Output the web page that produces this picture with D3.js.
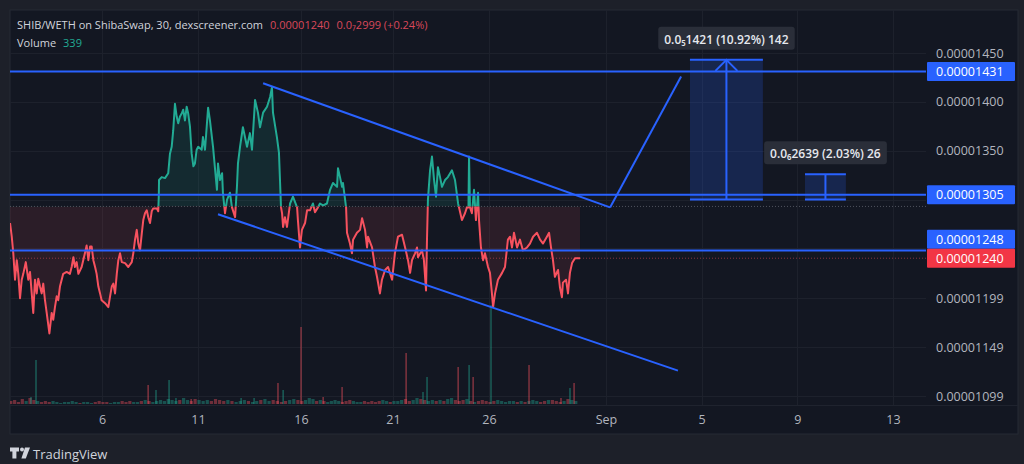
<!DOCTYPE html>
<html><head><meta charset="utf-8">
<script src="https://cdn.jsdelivr.net/npm/d3@7"></script>
<style>
html,body{margin:0;padding:0;background:#1d2029;}
svg{display:block;font-family:"Open Sans","Noto Sans",sans-serif;}
</style></head><body>
<svg id="c" width="1024" height="464"></svg>
<script>
// ---------- DATA ----------
// time in days from 1 Aug (32 = 1 Sep); price in units of 1e-8
const priceT = [1.21,1.30,1.38,1.47,1.56,1.64,1.73,1.82,1.90,2.03,2.16,2.25,2.34,2.42,2.51,2.60,2.68,2.77,2.86,2.94,
3.03,3.12,3.26,3.38,3.46,3.55,3.64,3.72,3.81,3.90,3.98,4.16,4.33,4.42,4.51,4.59,4.68,4.77,4.94,5.11,
5.20,5.29,5.38,5.46,5.55,5.64,5.72,5.81,5.90,5.98,6.16,6.33,6.42,6.51,6.59,6.68,6.77,6.85,6.94,7.03,
7.20,7.37,7.55,7.63,7.72,7.81,7.89,7.98,8.07,8.15,8.24,8.33,8.41,8.50,8.59,8.67,8.85,8.93,8.96,8.97,
9.11,9.28,9.45,9.54,9.63,9.71,9.80,9.89,9.97,10.06,10.15,10.23,10.32,10.41,10.49,10.58,10.67,10.76,10.84,10.93,
11.01,11.18,11.24,11.34,11.49,11.58,11.73,11.92,11.97,12.07,12.17,12.21,12.31,12.41,12.55,12.65,12.80,12.89,12.94,13.04,
13.18,13.38,13.52,13.62,13.77,13.91,14.01,14.16,14.35,14.50,14.59,14.64,14.83,14.93,15.03,15.08,15.13,15.22,15.32,15.47,
15.61,15.81,15.85,15.95,16.05,16.22,16.33,16.49,16.65,16.76,16.92,17.03,17.20,17.41,17.58,17.74,17.96,18.01,18.12,18.23,
18.28,18.45,18.50,18.66,18.77,18.83,19.04,19.21,19.32,19.48,19.59,19.64,19.86,20.02,20.13,20.29,20.40,20.57,20.73,20.95,
21.10,21.26,21.47,21.63,21.78,21.89,21.99,22.15,22.25,22.30,22.51,22.61,22.72,22.77,22.82,22.93,23.03,23.14,23.24,23.34,
23.45,23.55,23.71,23.86,24.07,24.23,24.39,24.59,24.75,24.85,24.93,24.96,25.01,25.11,25.22,25.32,25.43,25.48,25.58,25.69,
25.79,25.95,26.05,26.15,26.21,26.31,26.46,26.67,26.82,26.97,27.08,27.18,27.28,27.44,27.59,27.74,27.95,28.10,28.26,28.46,
28.62,28.77,28.97,29.08,29.18,29.28,29.38,29.54,29.64,29.74,29.79,29.95,30.05,30.15,30.26,30.41,30.56,30.67];
const priceE8 = [1276,1262,1245,1218,1238,1224,1199,1218,1224,1236,1218,1226,1204,1184,1218,1204,1219,1211,1204,1214,
1197,1184,1163,1184,1177,1190,1201,1197,1211,1218,1224,1226,1224,1231,1241,1231,1236,1224,1231,1245,
1253,1238,1252,1252,1238,1231,1224,1211,1204,1197,1194,1190,1201,1211,1214,1204,1224,1238,1245,1236,
1235,1231,1236,1245,1259,1269,1255,1248,1265,1279,1286,1289,1282,1276,1288,1291,1291,1288,1305,1320,
1323,1322,1327,1347,1354,1371,1398,1385,1378,1385,1388,1392,1381,1395,1388,1375,1347,1334,1337,1351,
1354,1351,1364,1351,1394,1381,1354,1310,1337,1320,1327,1307,1286,1300,1307,1292,1282,1313,1337,1354,
1374,1354,1368,1351,1402,1389,1374,1389,1395,1405,1415,1389,1364,1348,1292,1286,1272,1282,1272,1296,
1303,1292,1279,1251,1269,1276,1289,1289,1296,1287,1292,1296,1294,1296,1310,1317,1313,1332,1323,1313,
1317,1292,1266,1255,1245,1259,1266,1269,1281,1269,1251,1262,1251,1231,1221,1204,1218,1228,1231,1218,
1245,1262,1264,1251,1238,1225,1238,1245,1251,1241,1248,1238,1207,1259,1300,1330,1344,1320,1303,1333,
1323,1313,1320,1323,1330,1320,1296,1279,1286,1292,1292,1344,1292,1286,1310,1279,1307,1279,1251,1238,
1245,1231,1225,1204,1190,1204,1218,1225,1231,1259,1262,1251,1266,1251,1259,1248,1251,1255,1262,1266,
1259,1255,1262,1266,1251,1238,1221,1228,1210,1200,1215,1218,1204,1225,1235,1240,1240,1240];

const baselineE8 = 1293;       // baseline of the baseline-style series
const lastPriceE8 = 1240;

// volume: small bars at regular 0.2-day steps from t=1.25, plus notable spikes [t, value, up]
const volStart = 1.25, volStep = 0.2;
const volFloor = [3,4,2,5,3,6,4,3,2,3, 2,3,2,1,2,2,3,2,1,2, 2,1,2,3,2,2,1,2,2,3, 2,3,2,2,3,4,3,2,3,4,
3,5,4,3,4,6,4,3,5,4, 3,4,3,5,4,3,4,3,2,3, 4,3,2,3,4,5,3,4,3,2, 3,4,5,4,3,4,6,5,3,4,
3,2,3,4,3,2,3,4,3,2, 2,3,2,3,2,3,4,3,2,3, 3,4,5,3,4,6,5,4,3,4, 3,4,3,5,6,4,3,4,5,3,
2,3,4,3,2,3,4,3,2,3, 3,2,3,2,3,4,3,2,3,4, 4,3,2,3,5,4,3];
const volSpikes = [[2.30,7,1],[2.56,44,1],[8.40,19,0],[8.81,14,1],[9.49,24,1],[9.85,6,1],[10.64,5,0],
[13.09,6,1],[13.72,6,1],[14.88,21,0],[15.13,14,1],[16.00,77,0],[17.20,7,0],[18.23,17,0],
[21.68,51,0],[22.56,12,1],[22.77,27,1],[24.39,37,0],[24.96,39,1],[25.17,27,0],[26.10,99,1],
[28.05,39,0],[29.69,6,0],[30.15,16,1],[30.36,21,0]];

// drawings
const hLevels = [1431, 1305, 1248];
const channelUpper = [[14.16,1419],[32.17,1292]];
const breakoutLine = [[32.17,1292],[35.14,1426]];
const channelLower = [[11.97,1285],[35.01,1125]];
const measures = [
  {t0:35.51, t1:38.56, p0:1300, p1:1443, label:"0.0\u20851421 (10.92%) 142", arrow:true},
  {t0:40.32, t1:42.03, p0:1300, p1:1326, label:"0.0\u20862639 (2.03%) 26", arrow:false}
];

// axes
const timeTicks = [6,11,16,21,26,32,36,40,44];
const timeLabels = ["6","11","16","21","26","Sep","5","9","13"];
const priceTicks = [1450,1400,1350,1199,1149,1099];
const gridPrices = [1450,1400,1350,1300,1250,1199,1149,1099];

// header
const titleText = "SHIB/WETH on ShibaSwap, 30, dexscreener.com";
const titlePrice = "0.00001240";
const titleChange = "0.0\u20872999 (+0.24%)";
const volumeValue = "339";

// ---------- DRAW ----------
const W=1024,H=464;
const P={l:10,r:926,t:10,b:405};
const GREEN="#22ab94", RED="#f7525f", BLUE="#2962ff";
const svg=d3.select("#c");
const defs=svg.append("defs");

svg.append("rect").attr("width",W).attr("height",H).attr("fill","#1d2029");
svg.append("rect").attr("x",10).attr("y",10).attr("width",1008).attr("height",424)
  .attr("fill","#131722").attr("stroke","#262a35");

const x=d3.scaleLinear().domain([1,6,11,16,21,26,32,44]).range([6,102,198,301,393,489,606,893]);
const y=d3.scaleLinear().domain([1099,1450]).range([396,53]);
const vy=d3.scaleLinear().domain([0,100]).range([404,304]);

// grid
const grid=svg.append("g").attr("stroke","#1d212c").attr("stroke-width",1);
grid.selectAll("line.v").data(timeTicks).join("line")
  .attr("x1",d=>Math.round(x(d))+0.5).attr("x2",d=>Math.round(x(d))+0.5).attr("y1",P.t).attr("y2",P.b);
grid.selectAll("line.h").data(gridPrices).join("line")
  .attr("x1",P.l).attr("x2",P.r).attr("y1",d=>Math.round(y(d))+0.5).attr("y2",d=>Math.round(y(d))+0.5);
svg.append("line").attr("x1",P.l).attr("x2",1018).attr("y1",P.b+0.5).attr("y2",P.b+0.5).attr("stroke","#1f232e");

// clips
const yb=y(baselineE8);
defs.append("clipPath").attr("id","plot").append("rect").attr("x",P.l).attr("y",P.t).attr("width",P.r-P.l).attr("height",P.b-P.t);
defs.append("clipPath").attr("id","top").append("rect").attr("x",P.l).attr("y",P.t).attr("width",P.r-P.l).attr("height",yb-P.t);
defs.append("clipPath").attr("id","bot").append("rect").attr("x",P.l).attr("y",yb).attr("width",P.r-P.l).attr("height",P.b-yb);

const series=priceT.map((t,i)=>({t,p:priceE8[i]}));
const bis=d3.bisector(d=>d.t).left;
function priceAt(t){
  let i=bis(series,t); if(i<=0) return series[0].p; if(i>=series.length) return series[series.length-1].p;
  const a=series[i-1],b=series[i]; return a.p+(b.p-a.p)*(t-a.t)/(b.t-a.t);
}

// volume
const vol=svg.append("g").attr("clip-path","url(#plot)");
const floorData=volFloor.map((v,i)=>{const t=volStart+i*volStep; return {t,v,up:priceAt(t)>=priceAt(t-volStep)};});
vol.selectAll("rect.f").data(floorData).join("rect")
  .attr("x",d=>x(d.t)-1.6).attr("width",3.2).attr("y",d=>vy(d.v)).attr("height",d=>vy(0)-vy(d.v))
  .attr("fill",d=>d.up?GREEN:RED).attr("opacity",0.4);
vol.selectAll("rect.s").data(volSpikes).join("rect")
  .attr("x",d=>x(d[0])-0.6).attr("width",1.3).attr("y",d=>vy(d[1])).attr("height",d=>vy(0)-vy(d[1]))
  .attr("fill",d=>d[2]?GREEN:RED).attr("opacity",0.55);

// baseline series
const area=d3.area().x(d=>x(d.t)).y0(yb).y1(d=>y(d.p));
const line=d3.line().x(d=>x(d.t)).y(d=>y(d.p));
svg.append("path").datum(series).attr("d",area).attr("fill",GREEN).attr("opacity",0.13).attr("clip-path","url(#top)");
svg.append("path").datum(series).attr("d",area).attr("fill",RED).attr("opacity",0.11).attr("clip-path","url(#bot)");
svg.append("line").attr("x1",P.l).attr("x2",P.r).attr("y1",yb).attr("y2",yb)
  .attr("stroke","#6a6d78").attr("stroke-dasharray","1,2").attr("opacity",0.7);
svg.append("line").attr("x1",P.l).attr("x2",P.r).attr("y1",y(lastPriceE8)).attr("y2",y(lastPriceE8))
  .attr("stroke",RED).attr("stroke-dasharray","1,2").attr("opacity",0.5);
svg.append("path").datum(series).attr("d",line).attr("fill","none").attr("stroke",GREEN).attr("stroke-width",2)
  .attr("stroke-linejoin","round").attr("clip-path","url(#top)");
svg.append("path").datum(series).attr("d",line).attr("fill","none").attr("stroke",RED).attr("stroke-width",2)
  .attr("stroke-linejoin","round").attr("clip-path","url(#bot)");

// drawings
const dr=svg.append("g").attr("clip-path","url(#plot)");
dr.selectAll("line.h").data(hLevels).join("line")
  .attr("x1",P.l).attr("x2",P.r).attr("y1",d=>y(d)).attr("y2",d=>y(d))
  .attr("stroke",BLUE).attr("stroke-width",2);
[channelUpper,breakoutLine,channelLower].forEach(seg=>{
  dr.append("path").datum(seg).attr("d",d3.line().x(d=>x(d[0])).y(d=>y(d[1])))
    .attr("stroke",BLUE).attr("stroke-width",2).attr("fill","none");
});
measures.forEach(m=>{
  const x0=x(m.t0),x1=x(m.t1),yt=y(m.p1),ybm=y(m.p0),xm=(x0+x1)/2;
  dr.append("rect").attr("x",x0).attr("y",yt).attr("width",x1-x0).attr("height",ybm-yt)
    .attr("fill",BLUE).attr("opacity",0.2);
  const g=dr.append("g").attr("stroke",BLUE).attr("stroke-width",2).attr("fill","none");
  g.append("line").attr("x1",x0).attr("x2",x1).attr("y1",yt).attr("y2",yt);
  g.append("line").attr("x1",x0).attr("x2",x1).attr("y1",ybm).attr("y2",ybm);
  g.append("line").attr("x1",xm).attr("x2",xm).attr("y1",yt).attr("y2",ybm);
  if(m.arrow) g.append("path").attr("d",`M${xm-11},${yt+11}L${xm},${yt}L${xm+11},${yt+11}`);
  const tg=svg.append("g");
  const tx=tg.append("text").attr("x",xm).attr("y",yt-16).attr("text-anchor","middle")
    .attr("fill","#e6e8ee").attr("font-size",12).attr("font-weight",600).text(m.label);
  const bb=tx.node().getBBox();
  tg.insert("rect","text").attr("x",bb.x-6).attr("y",yt-33).attr("width",bb.width+12).attr("height",23)
    .attr("rx",3).attr("fill","#2a2e39");
});

// axes
const xAxis=d3.axisBottom(x).tickValues(timeTicks).tickFormat((d,i)=>timeLabels[i]).tickSize(0).tickPadding(10);
const gx=svg.append("g").attr("transform",`translate(0,${P.b})`).call(xAxis);
gx.select(".domain").remove();
gx.selectAll("text").attr("fill","#b2b5be").attr("font-size",12.5).attr("font-family","Open Sans, sans-serif");

const yAxis=d3.axisRight(y).tickValues(priceTicks).tickFormat(d=>(d/1e8).toFixed(8)).tickSize(0).tickPadding(10);
const gy=svg.append("g").attr("transform",`translate(${P.r},0)`).call(yAxis);
gy.select(".domain").remove();
gy.selectAll("text").attr("fill","#b2b5be").attr("font-size",12.5).attr("font-family","Open Sans, sans-serif");

// axis price labels
const axisLabels=hLevels.map(v=>({v,c:BLUE,cy:y(v)}));
const cur={v:lastPriceE8,c:"#f23645",cy:y(lastPriceE8)};
axisLabels.forEach(l=>{ if(Math.abs(l.cy-cur.cy)<19) l.cy=cur.cy-19; });
axisLabels.push(cur);
const lg=svg.append("g");
axisLabels.forEach(l=>{
  lg.append("rect").attr("x",927).attr("y",l.cy-9.5).attr("width",88).attr("height",19).attr("fill",l.c).attr("rx",1);
  lg.append("text").attr("x",936).attr("y",l.cy+4.5).attr("fill","#ffffff").attr("font-size",12.5)
    .text((l.v/1e8).toFixed(8));
});

// header
const h=svg.append("text").attr("x",17).attr("y",29).attr("font-size",11).attr("fill","#d1d4dc");
h.append("tspan").text(titleText);
h.append("tspan").attr("dx",7).attr("fill","#d9485a").text(titlePrice);
h.append("tspan").attr("dx",7).attr("fill","#d9485a").text(titleChange);
const v=svg.append("text").attr("x",17).attr("y",46.5).attr("font-size",11).attr("fill","#d1d4dc");
v.append("tspan").text("Volume");
v.append("tspan").attr("dx",7).attr("fill",GREEN).text(volumeValue);

// TradingView logo
const logo=svg.append("g").attr("fill","#d1d4dc");
logo.append("path").attr("d","M10,447.5h9v4h-2.6v7h-4v-7h-2.4z");
logo.append("circle").attr("cx",22).attr("cy",449.5).attr("r",2);
logo.append("path").attr("d","M25,447.5h5l-4.2,11h-4.4z");
logo.append("text").attr("x",33).attr("y",458.5).attr("font-size",13).attr("font-weight",500).text("TradingView");
</script>
</body></html>
